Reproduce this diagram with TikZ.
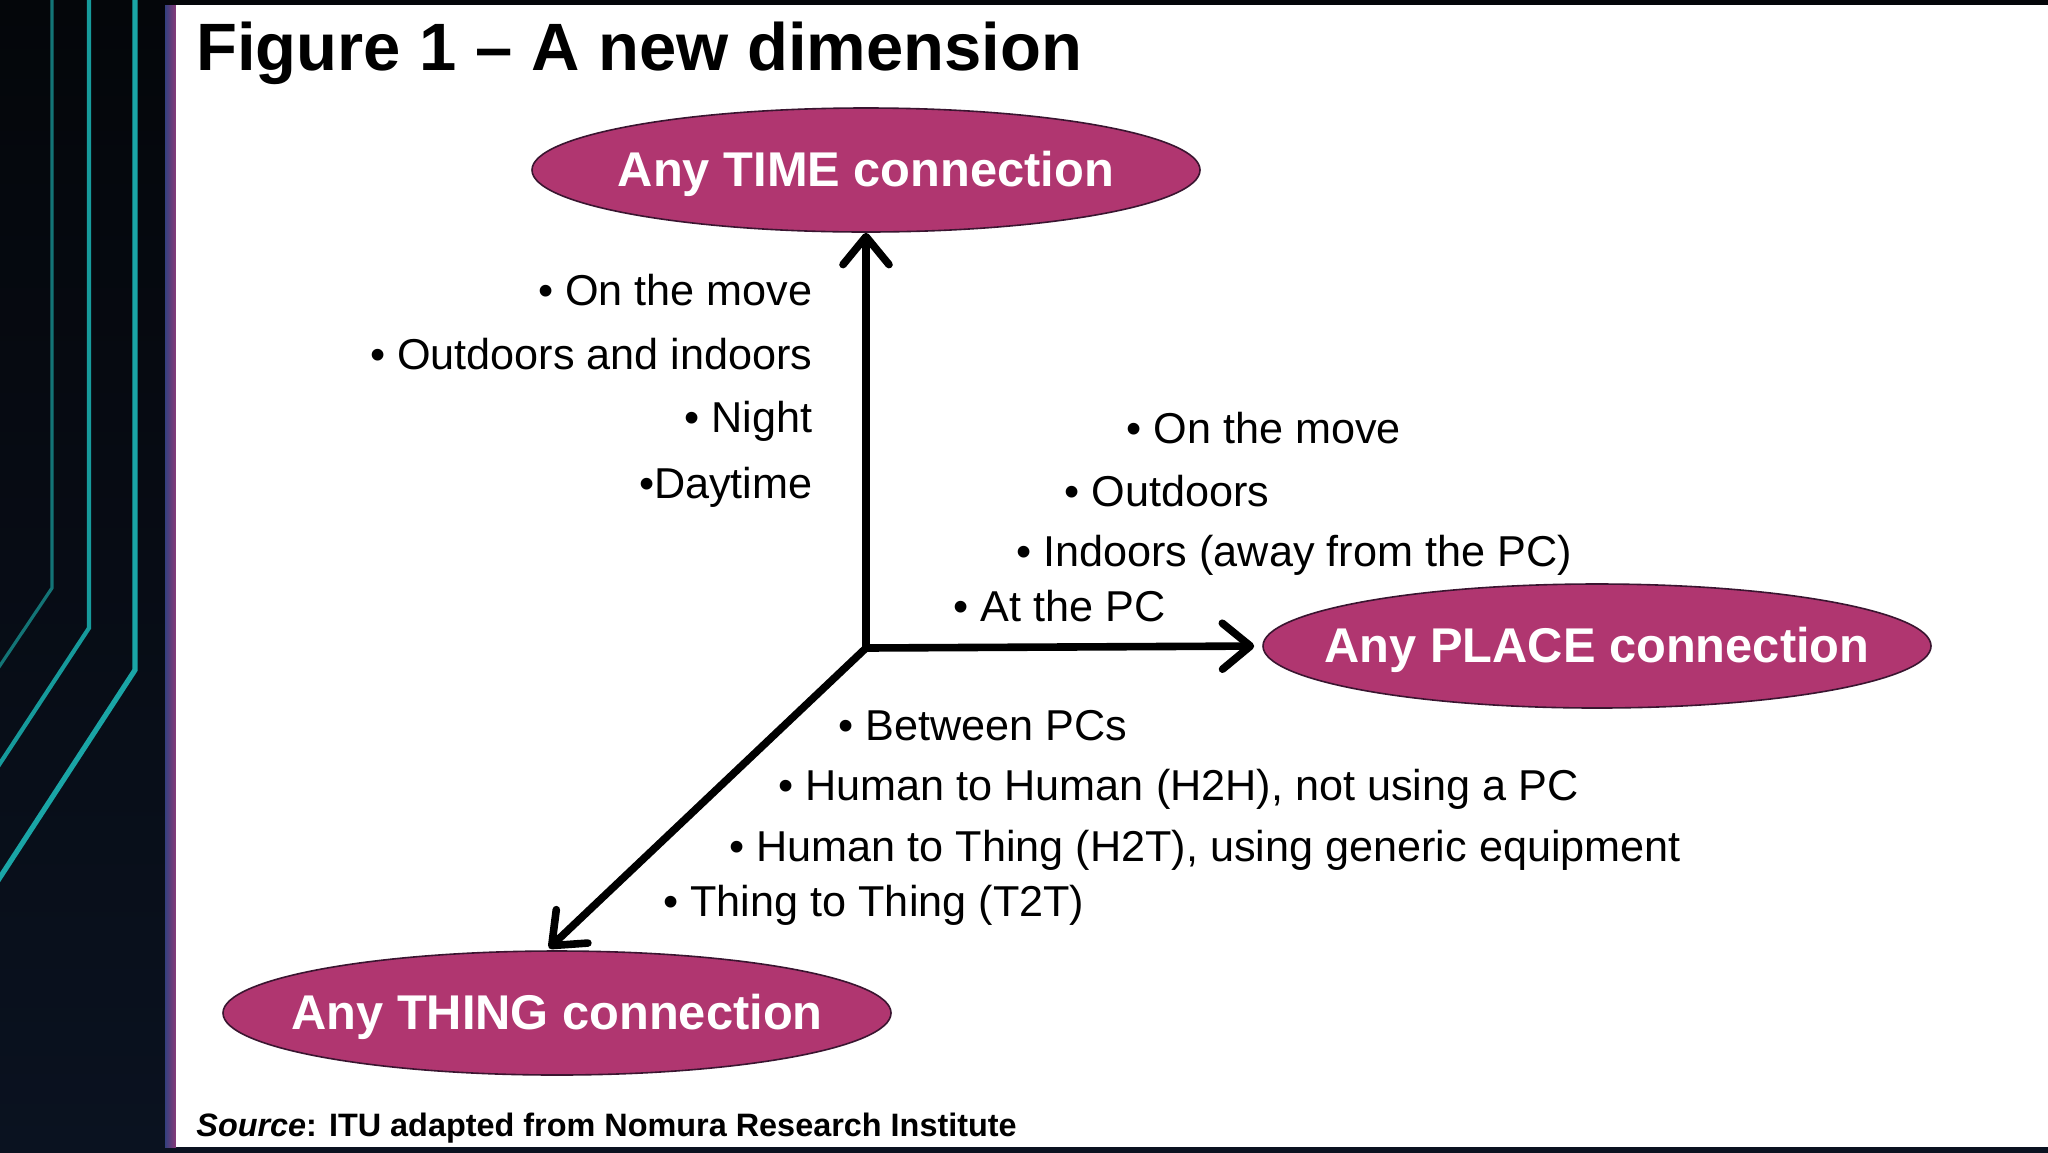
\documentclass[tikz,border=0pt]{standalone}
\usepackage{fontspec}
\setmainfont{Liberation Sans}
\usetikzlibrary{shapes.geometric,arrows.meta}
\definecolor{bgtop}{HTML}{04060A}
\definecolor{bgbot}{HTML}{0A1220}
\definecolor{tealA}{HTML}{137476}
\definecolor{tealB}{HTML}{169A9B}
\definecolor{tealC}{HTML}{1AA5A6}
\definecolor{ovfill}{HTML}{B03670}
\definecolor{ovline}{HTML}{3A1530}
\definecolor{stripL}{HTML}{34407F}
\definecolor{stripR}{HTML}{8A3A78}
\tikzset{
  oval/.style={ellipse, draw=ovline, line width=0.8pt, fill=ovfill, inner sep=0pt,
    minimum width=334pt, minimum height=62pt},
  ovtext/.style={inner sep=0pt, text=white, yshift=-2pt, font=\fontsize{24.4}{28}\selectfont\bfseries},
  lbl/.style={inner sep=0pt, text=black, font=\fontsize{21.6}{24}\selectfont},
  axis/.style={line width=3.8pt, black, line cap=round,
    -{Straight Barb[length=14pt,width=23pt,line cap=round,line join=round]}},
  deco/.style={line cap=butt, line join=miter}
}
\begin{document}
\begin{tikzpicture}[x=0.5pt,y=-0.5pt]
\useasboundingbox (0,0) rectangle (2048,1152);
% background
\shade[top color=bgtop, bottom color=bgbot] (0,0) rectangle (2048,1152);
% teal decoration
\draw[deco, tealA, line width=1.6pt] (52,-5) -- (52,588) -- (-3,670);
\draw[deco, tealB, line width=2.1pt] (89,-5) -- (89,628) -- (-3,768);
\draw[deco, tealC, line width=2.6pt] (135,-5) -- (135,670) -- (-3,882);
% panel
\shade[left color=stripL, right color=stripR] (165,5) rectangle (176,1147);
\fill[white] (176,5) rectangle (2048,1147);
% title
\node[inner sep=0pt, anchor=base west, font=\fontsize{33.5}{38}\selectfont\bfseries] (title) at (196,70) {Figure 1 – A new dimension};
% ovals
\node[oval, label={[ovtext]center:Any TIME connection}] (time) at (866,170) {};
\node[oval, label={[ovtext]center:Any PLACE connection}] (place) at (1597,646) {};
\node[oval, label={[ovtext]center:Any THING connection}] (thing) at (557,1013) {};
% origin
\coordinate (O) at (866,648);
\draw[axis] (O) -- (time.south);
\draw[axis, shorten >=4pt] (O) -- (place.west);
\draw[axis] (O) -- ([xshift=-4pt,yshift=1pt]thing.north);
% time labels
\node[lbl, anchor=base east] (t1) at (813,305) {• On the move};
\node[lbl, anchor=base east] (t2) at (813,369) {• Outdoors and indoors};
\node[lbl, anchor=base east] (t3) at (813,432) {• Night};
\node[lbl, anchor=base east] (t4) at (813,498) {•Daytime};
% place labels
\node[lbl, anchor=base west] (p1) at (1126,443) {• On the move};
\node[lbl, anchor=base west] (p2) at (1064,506) {• Outdoors};
\node[lbl, anchor=base west] (p3) at (1016,566) {• Indoors (away from the PC)};
\node[lbl, anchor=base west] (p4) at (953,621) {• At the PC};
% thing labels
\node[lbl, anchor=base west] (h1) at (838,740) {• Between PCs};
\node[lbl, anchor=base west] (h2) at (778,800) {• Human to Human (H2H), not using a PC};
\node[lbl, anchor=base west] (h3) at (729,861) {• Human to Thing (H2T), using generic equipment};
\node[lbl, anchor=base west] (h4) at (663,916) {• Thing to Thing (T2T)};
% source
\node[inner sep=0pt, anchor=base west, font=\fontsize{16.2}{18}\selectfont\bfseries] (src) at (196,1136) {\textit{Source}: ITU adapted from Nomura Research Institute};
\end{tikzpicture}
\end{document}
